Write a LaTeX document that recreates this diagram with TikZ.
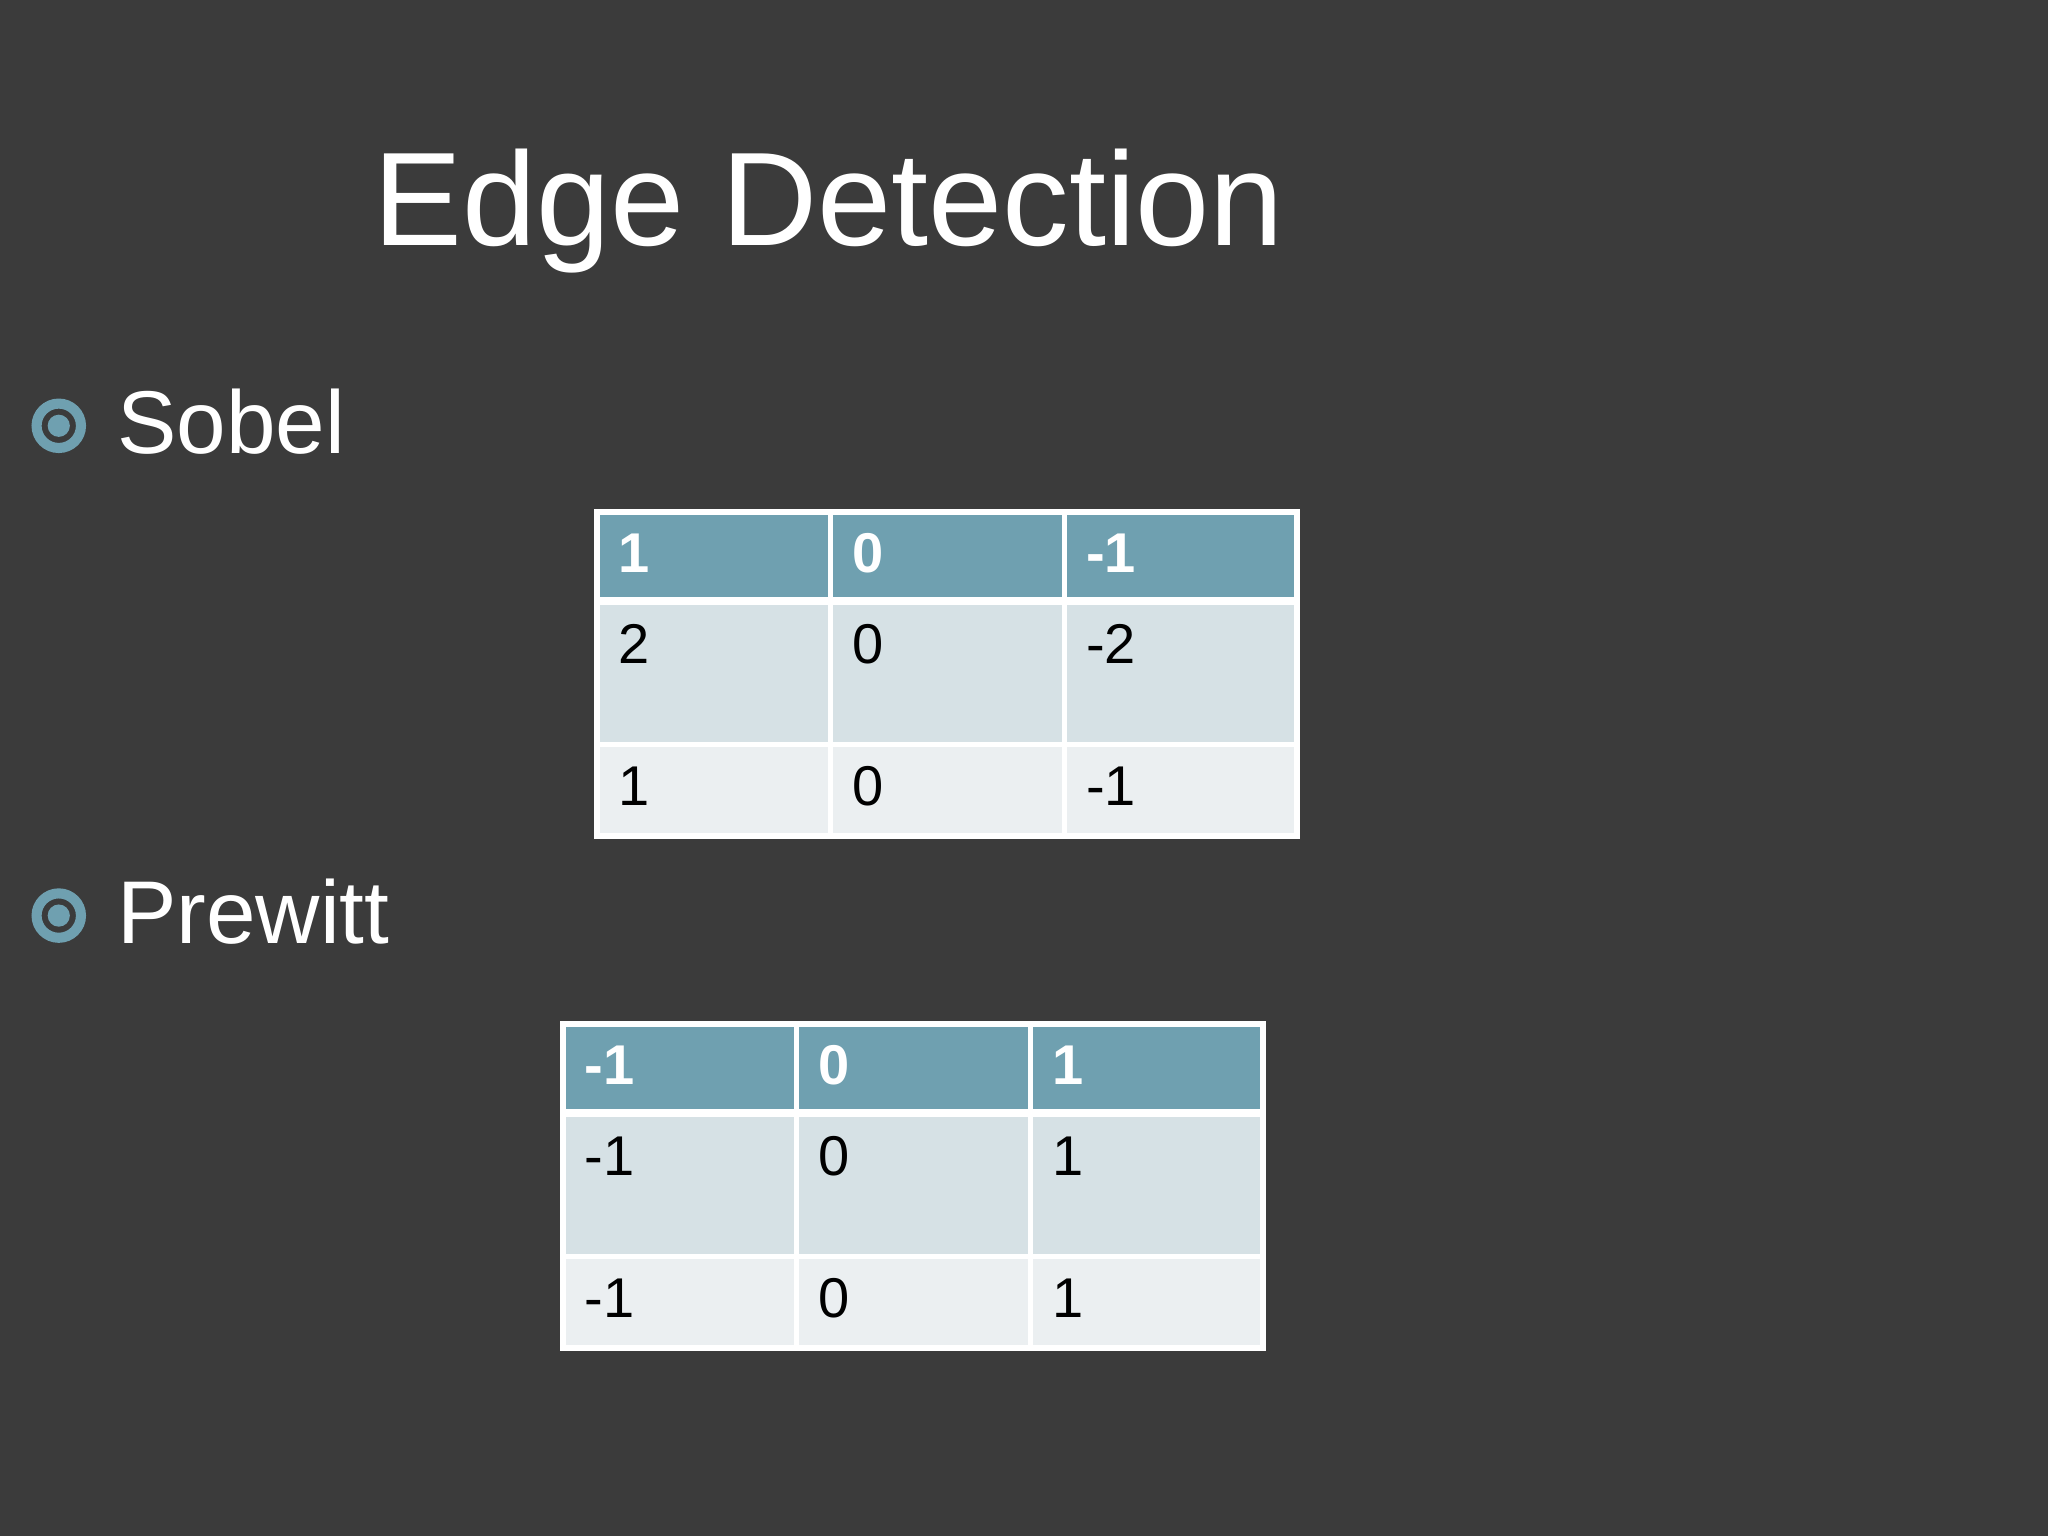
\documentclass[tikz,border=0pt]{standalone}
\usepackage{fontspec}
\setmainfont{Liberation Sans}
\definecolor{bg}{HTML}{3B3B3B}
\definecolor{hdr}{HTML}{6FA0B0}
\definecolor{rowa}{HTML}{D6E1E5}
\definecolor{rowb}{HTML}{EBEFF1}
\begin{document}
\begin{tikzpicture}[x=0.01cm,y=-0.01cm,
  txt/.style={inner sep=0,anchor=base west},
  hnum/.style={txt,text=white,font=\fontsize{12.2}{14}\selectfont\bfseries},
  num/.style={txt,text=black,font=\fontsize{12.2}{14}\selectfont},
  grid/.style={draw=white,line width=1.2pt}]
\fill[bg] (0,0) rectangle (1568,1176);
\useasboundingbox (0,0) rectangle (1568,1176);
\node[txt,text=white,font=\fontsize{29}{34}\selectfont] (title) at (285,188) {Edge Detection};
\foreach \n/\y/\t in {s/347/Sobel,p/722/Prewitt}{
  \draw[hdr,line width=2.2pt] (45,\y-21) circle (17);
  \fill[hdr] (45,\y-21) circle (8.5);
  \node[txt,text=white,font=\fontsize{19.4}{23}\selectfont] (\n) at (89,\y) {\t};
}
% tables
\foreach \tb/\x/\y/\ha/\hb/\hc/\aa/\ab/\ac/\ba/\bb/\bc in
 {st/457/392/1/0/-1/2/0/-2/1/0/-1, pt/431/784/-1/0/1/-1/0/1/-1/0/1}{
  \fill[hdr] (\x,\y) rectangle ++(536,67);
  \fill[rowa] (\x,\y+67) rectangle ++(536,111);
  \fill[rowb] (\x,\y+178) rectangle ++(536,70);
  \draw[grid] (\x,\y) rectangle ++(536,248);
  \draw[grid] (\x,\y+67) -- ++(536,0);
  \draw[white,line width=0.6pt] (\x,\y+70) -- ++(536,0);
  \draw[grid] (\x,\y+178) -- ++(536,0);
  \draw[grid] (\x+179,\y) -- ++(0,248);
  \draw[grid] (\x+358,\y) -- ++(0,248);
  \node[hnum] (\tb h1) at (\x+16,\y+46) {\ha};
  \node[hnum] (\tb h2) at (\x+195,\y+46) {\hb};
  \node[hnum] (\tb h3) at (\x+374,\y+46) {\hc};
  \node[num] (\tb a1) at (\x+16,\y+116) {\aa};
  \node[num] (\tb a2) at (\x+195,\y+116) {\ab};
  \node[num] (\tb a3) at (\x+374,\y+116) {\ac};
  \node[num] (\tb b1) at (\x+16,\y+225) {\ba};
  \node[num] (\tb b2) at (\x+195,\y+225) {\bb};
  \node[num] (\tb b3) at (\x+374,\y+225) {\bc};
}
\end{tikzpicture}
\end{document}
